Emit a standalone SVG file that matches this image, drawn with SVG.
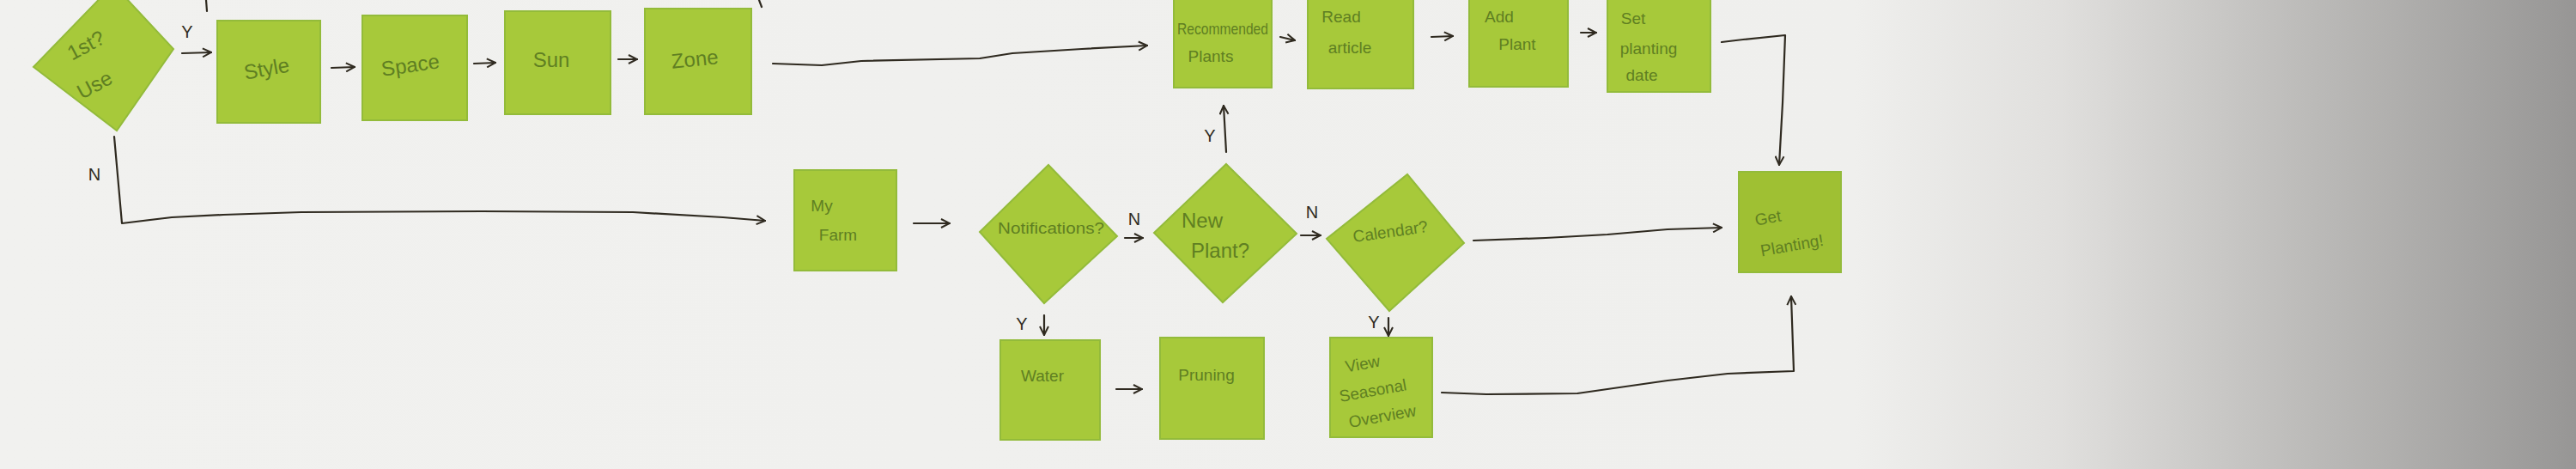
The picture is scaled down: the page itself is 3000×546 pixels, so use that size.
<svg xmlns="http://www.w3.org/2000/svg" width="3000" height="546" viewBox="0 0 3000 546">
<defs>
<linearGradient id="bg" x1="0" y1="0" x2="3000" y2="0" gradientUnits="userSpaceOnUse">
<stop offset="0" stop-color="#f1f1ef"/>
<stop offset="0.72" stop-color="#efefed"/>
<stop offset="0.80" stop-color="#e0dfdd"/>
<stop offset="0.89" stop-color="#bebdbb"/>
<stop offset="1" stop-color="#979695"/>
</linearGradient>
<marker id="ah" viewBox="0 0 12 12" refX="11" refY="6" markerWidth="12" markerHeight="12" markerUnits="userSpaceOnUse" orient="auto">
<path d="M1,1 L11,6 L1,11" fill="none" stroke="#2f2a20" stroke-width="2"/>
</marker>
<style>
.note{fill:#a7c93a;stroke:#93bb3a;stroke-width:2}
.dark{fill:#9fc033}
.t{font-family:"Liberation Sans","DejaVu Sans",sans-serif;fill:#5f7f22;font-size:24px;text-anchor:middle}
.s{font-size:19px}
.c{fill:none;stroke:#2f2a20;stroke-width:2.2;stroke-linecap:round;stroke-linejoin:round}
.a{marker-end:url(#ah)}
.lb{font-family:"Liberation Sans","DejaVu Sans",sans-serif;fill:#2f2a20;font-size:20px;text-anchor:middle}
</style>
</defs>
<rect x="0" y="0" width="3000" height="546" fill="url(#bg)"/>

<g id="n-first-use">
<polygon class="note" points="132,-18 202,57 136,152 39,78"/>
<text class="t" x="104" y="60" transform="rotate(-28 104 60)">1st?</text>
<text class="t" x="114" y="106" transform="rotate(-28 114 106)">Use</text>
</g>
<g id="n-style"><rect class="note" x="253" y="24" width="120" height="119"/><text class="t" x="312" y="88" transform="rotate(-10 312 88)">Style</text></g>
<g id="n-space"><rect class="note" x="422" y="18" width="122" height="122"/><text class="t" x="479" y="84" transform="rotate(-8 479 84)">Space</text></g>
<g id="n-sun"><rect class="note" x="588" y="13" width="123" height="120"/><text class="t" x="642" y="78">Sun</text></g>
<g id="n-zone"><rect class="note" x="751" y="10" width="124" height="123"/><text class="t" x="810" y="77" transform="rotate(-6 810 77)">Zone</text></g>

<g id="n-recommended"><rect class="note" x="1367" y="-5" width="114" height="107"/><text class="t s" x="1424" y="40" textLength="106" lengthAdjust="spacingAndGlyphs">Recommended</text><text class="t s" x="1410" y="72">Plants</text></g>
<g id="n-read"><rect class="note" x="1523" y="-5" width="123" height="108"/><text class="t s" x="1562" y="26">Read</text><text class="t s" x="1572" y="62">article</text></g>
<g id="n-add"><rect class="note" x="1711" y="-5" width="115" height="106"/><text class="t s" x="1746" y="26">Add</text><text class="t s" x="1767" y="58">Plant</text></g>
<g id="n-set"><rect class="note" x="1872" y="-5" width="120" height="112"/><text class="t s" x="1902" y="28">Set</text><text class="t s" x="1920" y="63">planting</text><text class="t s" x="1912" y="94">date</text></g>

<g id="n-myfarm"><rect class="note" x="925" y="198" width="119" height="117"/><text class="t s" x="957" y="246">My</text><text class="t s" x="976" y="280">Farm</text></g>
<g id="n-notifications"><polygon class="note" points="1221,192 1301,275 1216,353 1141,270"/><text class="t s" x="1224" y="272" textLength="124" lengthAdjust="spacingAndGlyphs">Notifications?</text></g>
<g id="n-newplant"><polygon class="note" points="1428,191 1510,272 1424,352 1344,271"/><text class="t" x="1400" y="265">New</text><text class="t" x="1421" y="300">Plant?</text></g>
<g id="n-calendar"><polygon class="note" points="1639,203 1705,283 1618,362 1545,278"/><text class="t s" x="1620" y="276" transform="rotate(-8 1620 276)">Calendar?</text></g>
<g id="n-water"><rect class="note" x="1165" y="396" width="116" height="116"/><text class="t s" x="1214" y="444">Water</text></g>
<g id="n-pruning"><rect class="note" x="1351" y="393" width="121" height="118"/><text class="t s" x="1405" y="443">Pruning</text></g>
<g id="n-view"><rect class="note" x="1549" y="393" width="119" height="116"/><text class="t s" x="1588" y="430" transform="rotate(-10 1588 430)">View</text><text class="t s" x="1600" y="461" transform="rotate(-10 1600 461)">Seasonal</text><text class="t s" x="1611" y="491" transform="rotate(-10 1611 491)">Overview</text></g>
<g id="n-getplanting"><rect class="note dark" x="2025" y="200" width="119" height="117"/><text class="t s" x="2060" y="260" transform="rotate(-10 2060 260)">Get</text><text class="t s" x="2088" y="292" transform="rotate(-10 2088 292)">Planting!</text></g>

<g id="connectors">
<path class="c" d="M240,0 L241,13"/>
<path class="c" d="M884,0 L887,8"/>
<path class="c a" d="M212,62 L246,61"/>
<path class="c a" d="M386,79 L413,78"/>
<path class="c a" d="M552,74 L577,73"/>
<path class="c a" d="M720,69 L742,69"/>
<path class="c a" d="M900,74 L957,76 L1003,71 L1141,68 L1179,62 L1260,57 L1336,53"/>
<path class="c a" d="M1491,43 L1508,47"/>
<path class="c a" d="M1667,43 L1692,42"/>
<path class="c a" d="M1841,38 L1859,38"/>
<path class="c a" d="M2005,49 L2030,46 L2079,41 L2076,120 L2072,192"/>
<path class="c a" d="M133,159 L142,260 L200,253 L260,250 L351,247 L561,246 L737,247 L842,253 L891,257"/>
<path class="c a" d="M1064,260 L1106,260"/>
<path class="c a" d="M1310,277 L1331,277"/>
<path class="c a" d="M1515,274 L1538,274"/>
<path class="c a" d="M1428,177 L1425,123"/>
<path class="c a" d="M1216,367 L1216,390"/>
<path class="c a" d="M1300,453 L1330,453"/>
<path class="c a" d="M1617,370 L1617,391"/>
<path class="c a" d="M1716,280 L1800,277 L1872,273 L1942,267 L2005,265"/>
<path class="c a" d="M1679,457 L1731,459 L1837,458 L1942,443 L2012,435 L2089,432 L2086,345"/>
<text class="lb" x="218" y="44">Y</text>
<text class="lb" x="110" y="210">N</text>
<text class="lb" x="1321" y="262">N</text>
<text class="lb" x="1528" y="254">N</text>
<text class="lb" x="1409" y="165">Y</text>
<text class="lb" x="1190" y="384">Y</text>
<text class="lb" x="1600" y="382">Y</text>
</g>
</svg>
